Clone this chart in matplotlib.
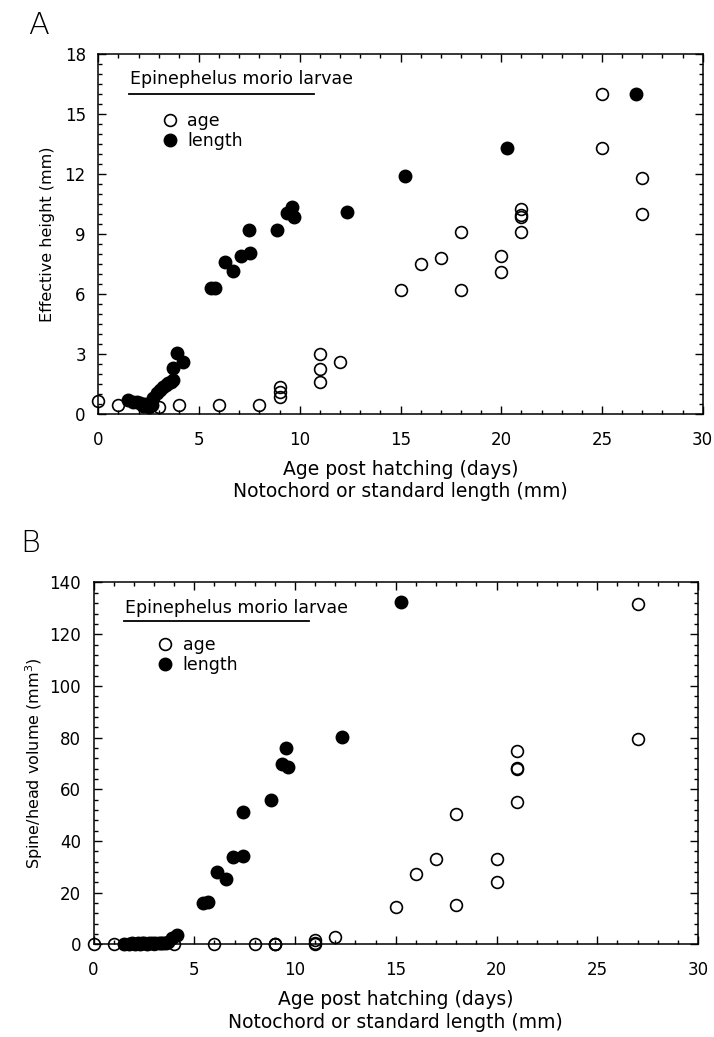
import matplotlib
matplotlib.use("Agg")
import matplotlib.pyplot as plt
from matplotlib.ticker import MultipleLocator

plt.rcParams['font.family'] = ['DejaVu Sans']

# ============================================
# Data: panel A (effective height, mm)
# ============================================

a_age_x = [0, 1, 3, 4, 6, 8, 9, 9, 9, 11, 11, 11, 12, 15, 16, 17, 18, 18,
           20, 20, 21, 21, 21, 21, 25, 25, 27, 27]
a_age_y = [0.65, 0.45, 0.35, 0.45, 0.45, 0.45, 1.35, 1.1, 0.85, 3.0, 2.25, 1.6,
           2.6, 6.2, 7.5, 7.8, 9.1, 6.2, 7.9, 7.1, 10.25, 9.95, 9.85, 9.1,
           16.0, 13.3, 11.8, 10.0]

a_len_x = [1.49, 1.74, 1.9, 2.07, 2.2, 2.3, 2.4, 2.5, 2.65, 2.73,
           2.9, 3.05, 3.23, 3.35, 3.47, 3.6, 3.72, 3.72, 3.89, 4.22,
           5.58, 5.78, 6.29, 6.67, 7.07, 7.53, 7.48, 8.85, 9.6, 9.38,
           9.73, 12.33, 15.22, 20.3, 26.69]
a_len_y = [0.7, 0.62, 0.6, 0.53, 0.4, 0.5, 0.45, 0.35, 0.45, 0.78,
           1.03, 1.2, 1.37, 1.45, 1.53, 1.6, 1.7, 2.28, 3.03, 2.62,
           6.28, 6.28, 7.6, 7.17, 7.9, 8.03, 9.2, 9.2, 10.33, 10.03,
           9.87, 10.08, 11.9, 13.3, 16.0]

# ============================================
# Data: panel B (spine/head volume, mm3)
# ============================================

b_age_x = [0, 1, 3, 4, 6, 8, 9, 9, 9, 11, 11, 11, 12, 15, 16, 17, 18, 18,
           20, 20, 21, 21, 21, 21, 27, 27]
b_age_y = [0, 0, 0, 0, 0, 0, 0, 0, 0, 1.7, 0.5, 0, 3.0, 14.6, 27.3, 33.1,
           50.3, 15.3, 33.2, 24.1, 74.9, 68.4, 67.9, 55.2, 131.7, 79.3]

b_len_x = [1.49, 1.74, 1.9, 2.07, 2.2, 2.3, 2.4, 2.5, 2.65, 2.73, 2.9, 3.05,
           3.23, 3.35, 3.47, 3.6, 3.72, 3.88, 4.13, 5.45, 5.7, 6.11, 6.56,
           6.94, 7.43, 7.4, 8.81, 9.34, 9.55, 9.67, 12.32, 15.25]
b_len_y = [0.3, 0.3, 0.4, 0.3, 0.4, 0.3, 0.5, 0.4, 0.3, 0.5, 0.4, 0.5,
           0.4, 0.5, 0.6, 0.7, 1.1, 2.4, 3.7, 15.9, 16.6, 28.2, 25.2,
           33.7, 34.2, 51.4, 55.9, 69.7, 75.9, 68.8, 80.4, 132.3]

x_ticks = [0, 5, 10, 15, 20, 25, 30]
a_y_ticks = [0, 3, 6, 9, 12, 15, 18]
b_y_ticks = [0, 20, 40, 60, 80, 100, 120, 140]

species = "Epinephelus morio larvae"
x_label = "Age post hatching (days)\nNotochord or standard length (mm)"


def style_axes(ax, yticks, yminor):
    ax.set_xlim(0, 30)
    ax.set_ylim(yticks[0], yticks[-1])
    ax.set_xticks(x_ticks)
    ax.set_yticks(yticks)
    ax.xaxis.set_minor_locator(MultipleLocator(1))
    ax.yaxis.set_minor_locator(MultipleLocator(yminor))
    ax.tick_params(which="both", direction="in", top=True, right=True,
                   labelsize=12, width=1.0)
    ax.tick_params(which="major", length=6)
    ax.tick_params(which="minor", length=3)
    ax.tick_params(axis="x", which="major", pad=12)
    ax.tick_params(axis="y", which="major", pad=9)
    for s in ax.spines.values():
        s.set_linewidth(1.1)
    ax.set_xlabel(x_label, fontsize=13.5, linespacing=1.25, labelpad=8)


def draw_panel(ax, ax_x, ax_y, ln_x, ln_y, title_y, line_y, leg_y):
    ax.plot(ax_x, ax_y, "o", ms=8.5, mfc="none", mec="black", mew=1.2,
            clip_on=False, label="age", zorder=3)
    ax.plot(ln_x, ln_y, "o", ms=9, mfc="black", mec="black",
            clip_on=False, label="length", zorder=4)

    ax.text(0.052, title_y, species, transform=ax.transAxes,
            fontsize=12.5, va="center", ha="left")
    ax.plot([0.05, 0.357], [line_y, line_y], transform=ax.transAxes,
            color="black", lw=1.3)
    ax.legend(loc="center left", bbox_to_anchor=(0.09, leg_y),
              frameon=False, fontsize=12.5, handlelength=1.0,
              handletextpad=0.5, labelspacing=0.12, borderpad=0)


fig = plt.figure(figsize=(7.14, 10.37), dpi=100)

# ============================================
# Panel A
# ============================================

ax1 = fig.add_axes([0.1377, 0.6008, 0.8465, 0.3471])
draw_panel(ax1, a_age_x, a_age_y, a_len_x, a_len_y, 0.93, 0.889, 0.785)
style_axes(ax1, a_y_ticks, 0.5)
ax1.set_ylabel("Effective height (mm)", fontsize=11.5, labelpad=7)
fig.text(0.04, 0.975, "A", fontsize=22, fontweight="light", va="center")

# ============================================
# Panel B
# ============================================

ax2 = fig.add_axes([0.131, 0.0892, 0.8466, 0.3491])
draw_panel(ax2, b_age_x, b_age_y, b_len_x, b_len_y, 0.93, 0.893, 0.8)
style_axes(ax2, b_y_ticks, 4)
ax2.set_ylabel("Spine/head volume (mm$^3$)", fontsize=11.5, labelpad=3)
fig.text(0.028, 0.476, "B", fontsize=22, fontweight="light", va="center")

fig.savefig("out.png", dpi=100)
